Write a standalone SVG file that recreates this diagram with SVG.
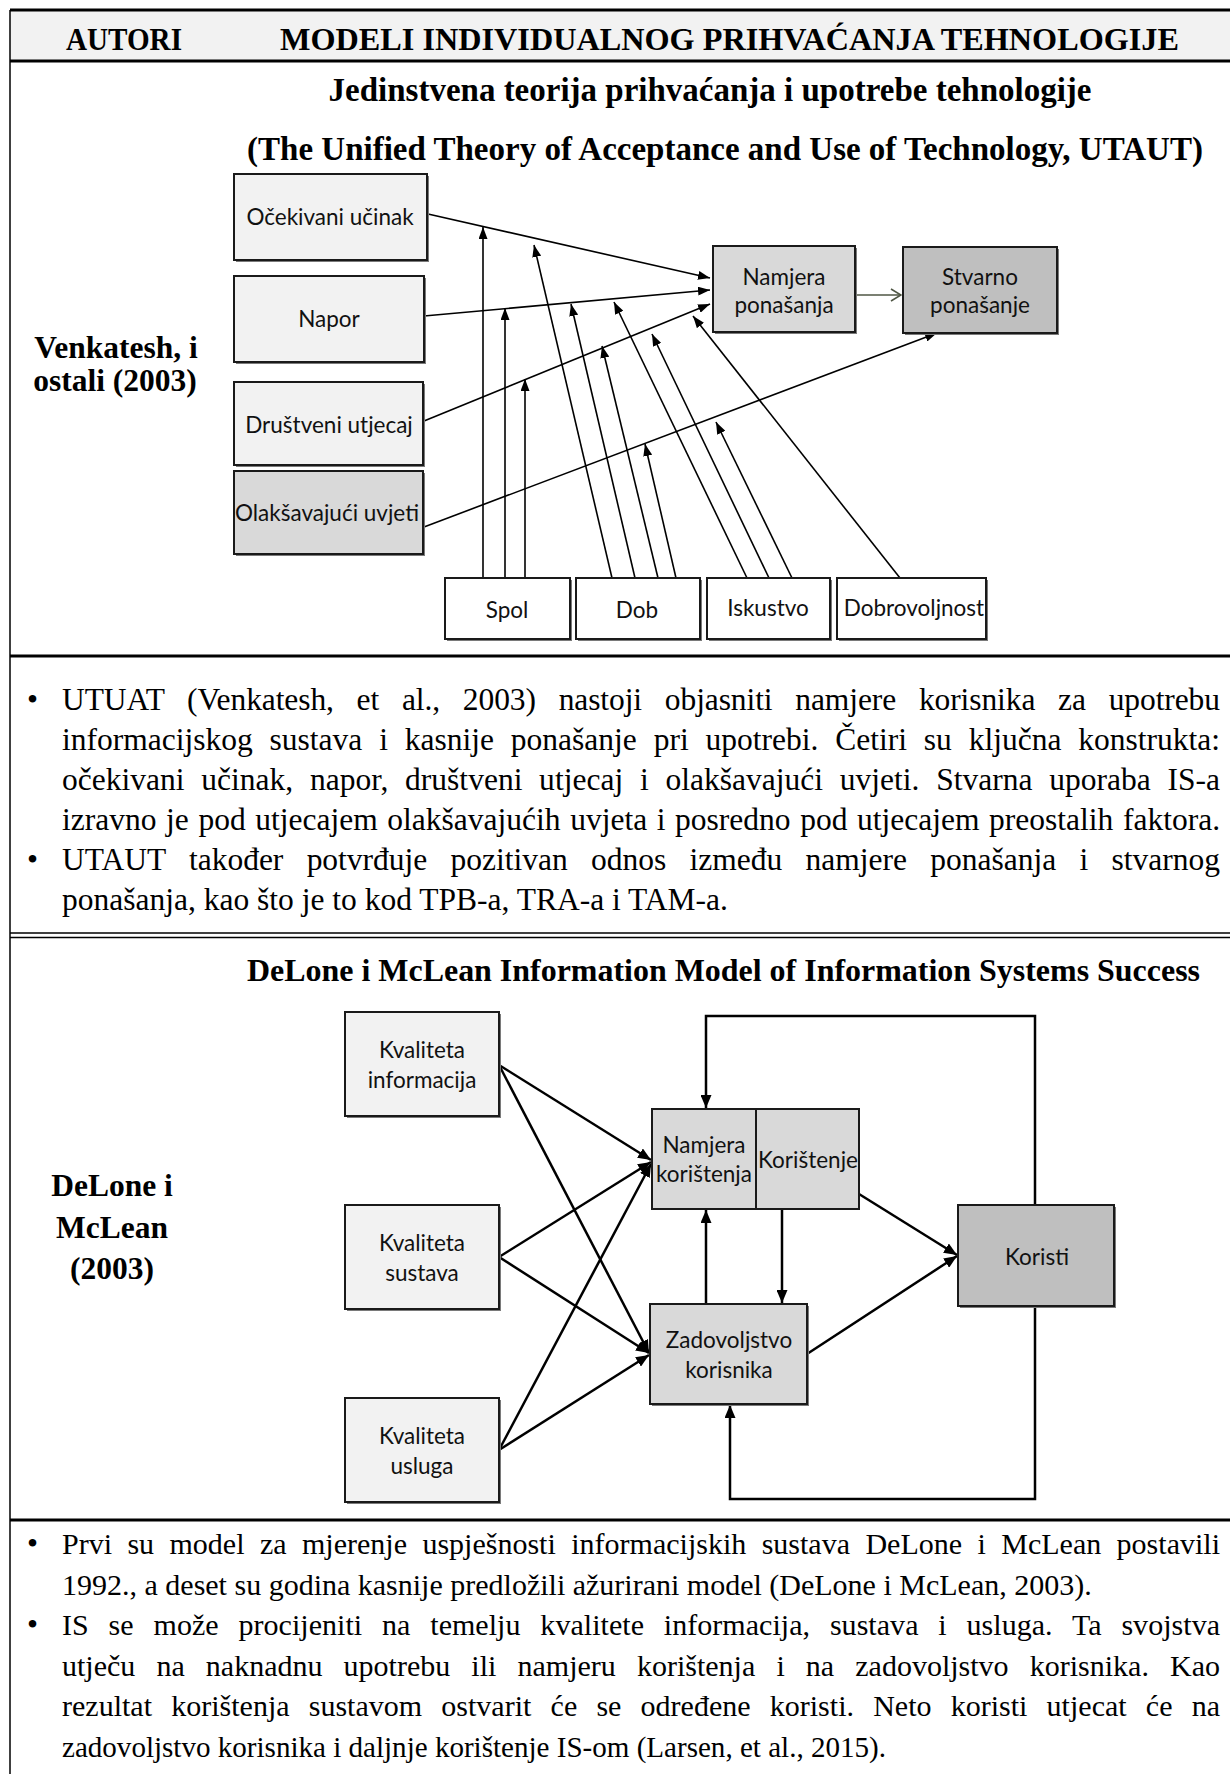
<svg xmlns="http://www.w3.org/2000/svg" width="1230" height="1774" viewBox="0 0 1230 1774">
<defs>
<style>
.hb{font-family:"Liberation Serif","Times New Roman",serif;font-weight:bold;font-size:31.5px;fill:#000}
.ti{font-size:33px}
.body{font-family:"Liberation Serif","Times New Roman",serif;font-size:31.5px;fill:#000}
.body2{font-family:"Liberation Serif","Times New Roman",serif;font-size:30px;fill:#000}
.lbl{font-family:Lato,"Open Sans",sans-serif;font-size:22.5px;fill:#111;text-anchor:middle}
.box{stroke:#1a1a1a;stroke-width:2}
.sh{fill:#7a7a7a}
.c1{fill:#f2f2f2}.c2{fill:#d9d9d9}.c3{fill:#bfbfbf}.c0{fill:#fff}
.rule{stroke:#000;stroke-width:3}
.thin{stroke:#000;stroke-width:1.5}
.ln{stroke:#000;stroke-width:1.6;fill:none}
.ln2{stroke:#000;stroke-width:2.5;fill:none}
</style>
<marker id="ah" viewBox="0 0 12 9" refX="12" refY="4.5" markerWidth="12" markerHeight="9" markerUnits="userSpaceOnUse" orient="auto"><path d="M0,0 L12,4.5 L0,9 z" fill="#000"/></marker>
<marker id="ah2" viewBox="0 0 13 11" refX="13" refY="5.5" markerWidth="13" markerHeight="11" markerUnits="userSpaceOnUse" orient="auto"><path d="M0,0 L13,5.5 L0,11 z" fill="#000"/></marker>
<marker id="open" viewBox="0 0 12 14" refX="11" refY="7" markerWidth="12" markerHeight="14" markerUnits="userSpaceOnUse" orient="auto"><path d="M1,1 L11,7 L1,13" fill="none" stroke="#4f5644" stroke-width="1.6"/></marker>
</defs>
<rect width="1230" height="1774" fill="#fff"/>

<g id="table">
<rect x="10" y="10" width="1220" height="51" fill="#f2f2f2"/>
<line class="rule" x1="10" y1="10" x2="1230" y2="10"/>
<line class="rule" x1="10" y1="61" x2="1230" y2="61"/>
<line class="rule" x1="10" y1="656" x2="1230" y2="656"/>
<line class="thin" x1="10" y1="933" x2="1230" y2="933"/>
<line class="thin" x1="10" y1="937.5" x2="1230" y2="937.5"/>
<line class="rule" x1="10" y1="1520" x2="1230" y2="1520"/>
<line class="thin" x1="10" y1="10" x2="10" y2="1774"/>
<text class="hb" x="124" y="50" text-anchor="middle" textLength="116" lengthAdjust="spacingAndGlyphs">AUTORI</text>
<text class="hb" x="280" y="50" textLength="899" lengthAdjust="spacingAndGlyphs">MODELI INDIVIDUALNOG PRIHVAĆANJA TEHNOLOGIJE</text>
<text class="hb ti" x="710" y="101" text-anchor="middle">Jedinstvena teorija prihvaćanja i upotrebe tehnologije</text>
<text class="hb ti" x="725" y="160" text-anchor="middle">(The Unified Theory of Acceptance and Use of Technology, UTAUT)</text>
<text class="hb" x="116" y="358" text-anchor="middle">Venkatesh, i</text>
<text class="hb" x="115" y="391" text-anchor="middle">ostali (2003)</text>
<text class="hb" x="247" y="981" textLength="953" lengthAdjust="spacingAndGlyphs">DeLone i McLean Information Model of Information Systems Success</text>
<text class="hb" x="112" y="1196" text-anchor="middle">DeLone i</text>
<text class="hb" x="112" y="1238" text-anchor="middle">McLean</text>
<text class="hb" x="112" y="1279" text-anchor="middle">(2003)</text>
</g>

<g id="utaut-text" class="body">
<text x="27" y="710">•</text>
<text x="62" y="710" style="word-spacing:15px" textLength="1158" lengthAdjust="spacing">UTUAT (Venkatesh, et al., 2003) nastoji objasniti namjere korisnika za upotrebu</text>
<text x="62" y="750" style="word-spacing:9px" textLength="1158" lengthAdjust="spacing">informacijskog sustava i kasnije ponašanje pri upotrebi. Četiri su ključna konstrukta:</text>
<text x="62" y="790" style="word-spacing:8.8px" textLength="1158" lengthAdjust="spacing">očekivani učinak, napor, društveni utjecaj i olakšavajući uvjeti. Stvarna uporaba IS-a</text>
<text x="62" y="830" style="word-spacing:1.7px" textLength="1158" lengthAdjust="spacing">izravno je pod utjecajem olakšavajućih uvjeta i posredno pod utjecajem preostalih faktora.</text>
<text x="27" y="870">•</text>
<text x="62" y="870" style="word-spacing:15.4px" textLength="1158" lengthAdjust="spacing">UTAUT također potvrđuje pozitivan odnos između namjere ponašanja i stvarnog</text>
<text x="62" y="910">ponašanja, kao što je to kod TPB-a, TRA-a i TAM-a.</text>
</g>

<g id="delone-text" class="body2">
<text x="27" y="1554" style="font-size:31.5px">•</text>
<text x="62" y="1554" style="word-spacing:7.9px" textLength="1158" lengthAdjust="spacing">Prvi su model za mjerenje uspješnosti informacijskih sustava DeLone i McLean postavili</text>
<text x="62" y="1595">1992., a deset su godina kasnije predložili ažurirani model (DeLone i McLean, 2003).</text>
<text x="27" y="1635" style="font-size:31.5px">•</text>
<text x="62" y="1635" style="word-spacing:12.3px" textLength="1158" lengthAdjust="spacing">IS se može procijeniti na temelju kvalitete informacija, sustava i usluga. Ta svojstva</text>
<text x="62" y="1676" style="word-spacing:13.6px" textLength="1158" lengthAdjust="spacing">utječu na naknadnu upotrebu ili namjeru korištenja i na zadovoljstvo korisnika. Kao</text>
<text x="62" y="1716" style="word-spacing:11.7px" textLength="1158" lengthAdjust="spacing">rezultat korištenja sustavom ostvarit će se određene koristi. Neto koristi utjecat će na</text>
<text x="62" y="1757" textLength="824" lengthAdjust="spacingAndGlyphs">zadovoljstvo korisnika i daljnje korištenje IS-om (Larsen, et al., 2015).</text>
</g>

<g id="utaut-connectors">
<line class="ln" x1="428" y1="214" x2="710" y2="278" marker-end="url(#ah)"/>
<line class="ln" x1="424" y1="316" x2="710" y2="290" marker-end="url(#ah)"/>
<line class="ln" x1="424" y1="421" x2="710" y2="304" marker-end="url(#ah)"/>
<line class="ln" x1="424" y1="527" x2="937" y2="333" marker-end="url(#ah)"/>
<line class="ln" x1="483" y1="578" x2="483" y2="227" marker-end="url(#ah)"/>
<line class="ln" x1="505" y1="578" x2="505" y2="308" marker-end="url(#ah)"/>
<line class="ln" x1="525" y1="578" x2="525" y2="379" marker-end="url(#ah)"/>
<line class="ln" x1="612" y1="578" x2="534" y2="245" marker-end="url(#ah)"/>
<line class="ln" x1="635" y1="578" x2="571" y2="304" marker-end="url(#ah)"/>
<line class="ln" x1="658" y1="578" x2="602" y2="346" marker-end="url(#ah)"/>
<line class="ln" x1="676" y1="578" x2="645" y2="444" marker-end="url(#ah)"/>
<line class="ln" x1="747" y1="578" x2="614" y2="302" marker-end="url(#ah)"/>
<line class="ln" x1="769" y1="578" x2="652" y2="334" marker-end="url(#ah)"/>
<line class="ln" x1="792" y1="578" x2="716" y2="422" marker-end="url(#ah)"/>
<line class="ln" x1="900" y1="578" x2="693" y2="316" marker-end="url(#ah)"/>
<line x1="857" y1="295" x2="901" y2="295" stroke="#4f5644" stroke-width="1.6" marker-end="url(#open)"/>
</g>

<g id="n-ocekivani"><rect class="sh" x="236" y="176" width="193" height="86"/><rect class="box c1" x="234" y="174" width="193" height="86"/><text class="lbl" x="330" y="225">Očekivani učinak</text></g>
<g id="n-napor"><rect class="sh" x="236" y="278" width="190" height="86"/><rect class="box c1" x="234" y="276" width="190" height="86"/><text class="lbl" x="329" y="327">Napor</text></g>
<g id="n-drustveni"><rect class="sh" x="236" y="384" width="189" height="83"/><rect class="box c1" x="234" y="382" width="189" height="83"/><text class="lbl" x="329" y="433">Društveni utjecaj</text></g>
<g id="n-olaksavajuci"><rect class="sh" x="236" y="473" width="189" height="83"/><rect class="box c2" x="234" y="471" width="189" height="83"/><text class="lbl" x="327" y="521">Olakšavajući uvjeti</text></g>
<g id="n-namjera"><rect class="sh" x="715" y="248" width="142" height="86"/><rect class="box c2" x="713" y="246" width="142" height="86"/><text class="lbl" x="784" y="285">Namjera</text><text class="lbl" x="784" y="313">ponašanja</text></g>
<g id="n-stvarno"><rect class="sh" x="905" y="249" width="154" height="86"/><rect class="box c3" x="903" y="247" width="154" height="86"/><text class="lbl" x="980" y="285">Stvarno</text><text class="lbl" x="980" y="313">ponašanje</text></g>
<g id="n-spol"><rect class="sh" x="447" y="580" width="125" height="61"/><rect class="box c0" x="445" y="578" width="125" height="61"/><text class="lbl" x="507" y="618">Spol</text></g>
<g id="n-dob"><rect class="sh" x="578" y="580" width="124" height="61"/><rect class="box c0" x="576" y="578" width="124" height="61"/><text class="lbl" x="637" y="618">Dob</text></g>
<g id="n-iskustvo"><rect class="sh" x="709" y="580" width="123" height="61"/><rect class="box c0" x="707" y="578" width="123" height="61"/><text class="lbl" x="768" y="616">Iskustvo</text></g>
<g id="n-dobrovoljnost"><rect class="sh" x="839" y="580" width="149" height="61"/><rect class="box c0" x="837" y="578" width="149" height="61"/><text class="lbl" x="914" y="616">Dobrovoljnost</text></g>

<g id="delone-connectors">
<line class="ln2" x1="499" y1="1065" x2="651" y2="1160" marker-end="url(#ah2)"/>
<line class="ln2" x1="499" y1="1065" x2="649" y2="1353" marker-end="url(#ah2)"/>
<line class="ln2" x1="499" y1="1257" x2="651" y2="1162" marker-end="url(#ah2)"/>
<line class="ln2" x1="499" y1="1257" x2="649" y2="1353" marker-end="url(#ah2)"/>
<line class="ln2" x1="499" y1="1450" x2="651" y2="1164" marker-end="url(#ah2)"/>
<line class="ln2" x1="499" y1="1450" x2="649" y2="1355" marker-end="url(#ah2)"/>
<line class="ln2" x1="706" y1="1304" x2="706" y2="1210" marker-end="url(#ah2)"/>
<line class="ln2" x1="782" y1="1209" x2="782" y2="1303" marker-end="url(#ah2)"/>
<line class="ln2" x1="859" y1="1194" x2="957" y2="1255" marker-end="url(#ah2)"/>
<line class="ln2" x1="807" y1="1354" x2="957" y2="1256" marker-end="url(#ah2)"/>
<polyline class="ln2" points="1035,1205 1035,1016 706,1016 706,1108" marker-end="url(#ah2)"/>
<polyline class="ln2" points="1035,1306 1035,1499 730,1499 730,1405" marker-end="url(#ah2)"/>
</g>

<g id="d-info"><rect class="sh" x="347" y="1014" width="154" height="104"/><rect class="box c1" x="345" y="1012" width="154" height="104"/><text class="lbl" x="422" y="1058">Kvaliteta</text><text class="lbl" x="422" y="1088">informacija</text></g>
<g id="d-sustav"><rect class="sh" x="347" y="1207" width="154" height="104"/><rect class="box c1" x="345" y="1205" width="154" height="104"/><text class="lbl" x="422" y="1251">Kvaliteta</text><text class="lbl" x="422" y="1281">sustava</text></g>
<g id="d-usluga"><rect class="sh" x="347" y="1400" width="154" height="104"/><rect class="box c1" x="345" y="1398" width="154" height="104"/><text class="lbl" x="422" y="1444">Kvaliteta</text><text class="lbl" x="422" y="1474">usluga</text></g>
<g id="d-namjera"><rect class="box c2" x="652" y="1109" width="104" height="100"/><text class="lbl" x="704" y="1153">Namjera</text><text class="lbl" x="704" y="1182">korištenja</text></g>
<g id="d-koristenje"><rect class="box c2" x="756" y="1109" width="103" height="100"/><text class="lbl" x="808" y="1168">Korištenje</text></g>
<g id="d-zadovoljstvo"><rect class="sh" x="652" y="1306" width="157" height="100"/><rect class="box c2" x="650" y="1304" width="157" height="100"/><text class="lbl" x="729" y="1348">Zadovoljstvo</text><text class="lbl" x="729" y="1378">korisnika</text></g>
<g id="d-koristi"><rect class="sh" x="960" y="1207" width="156" height="101"/><rect class="box c3" x="958" y="1205" width="156" height="101"/><text class="lbl" x="1037" y="1265">Koristi</text></g>
</svg>
